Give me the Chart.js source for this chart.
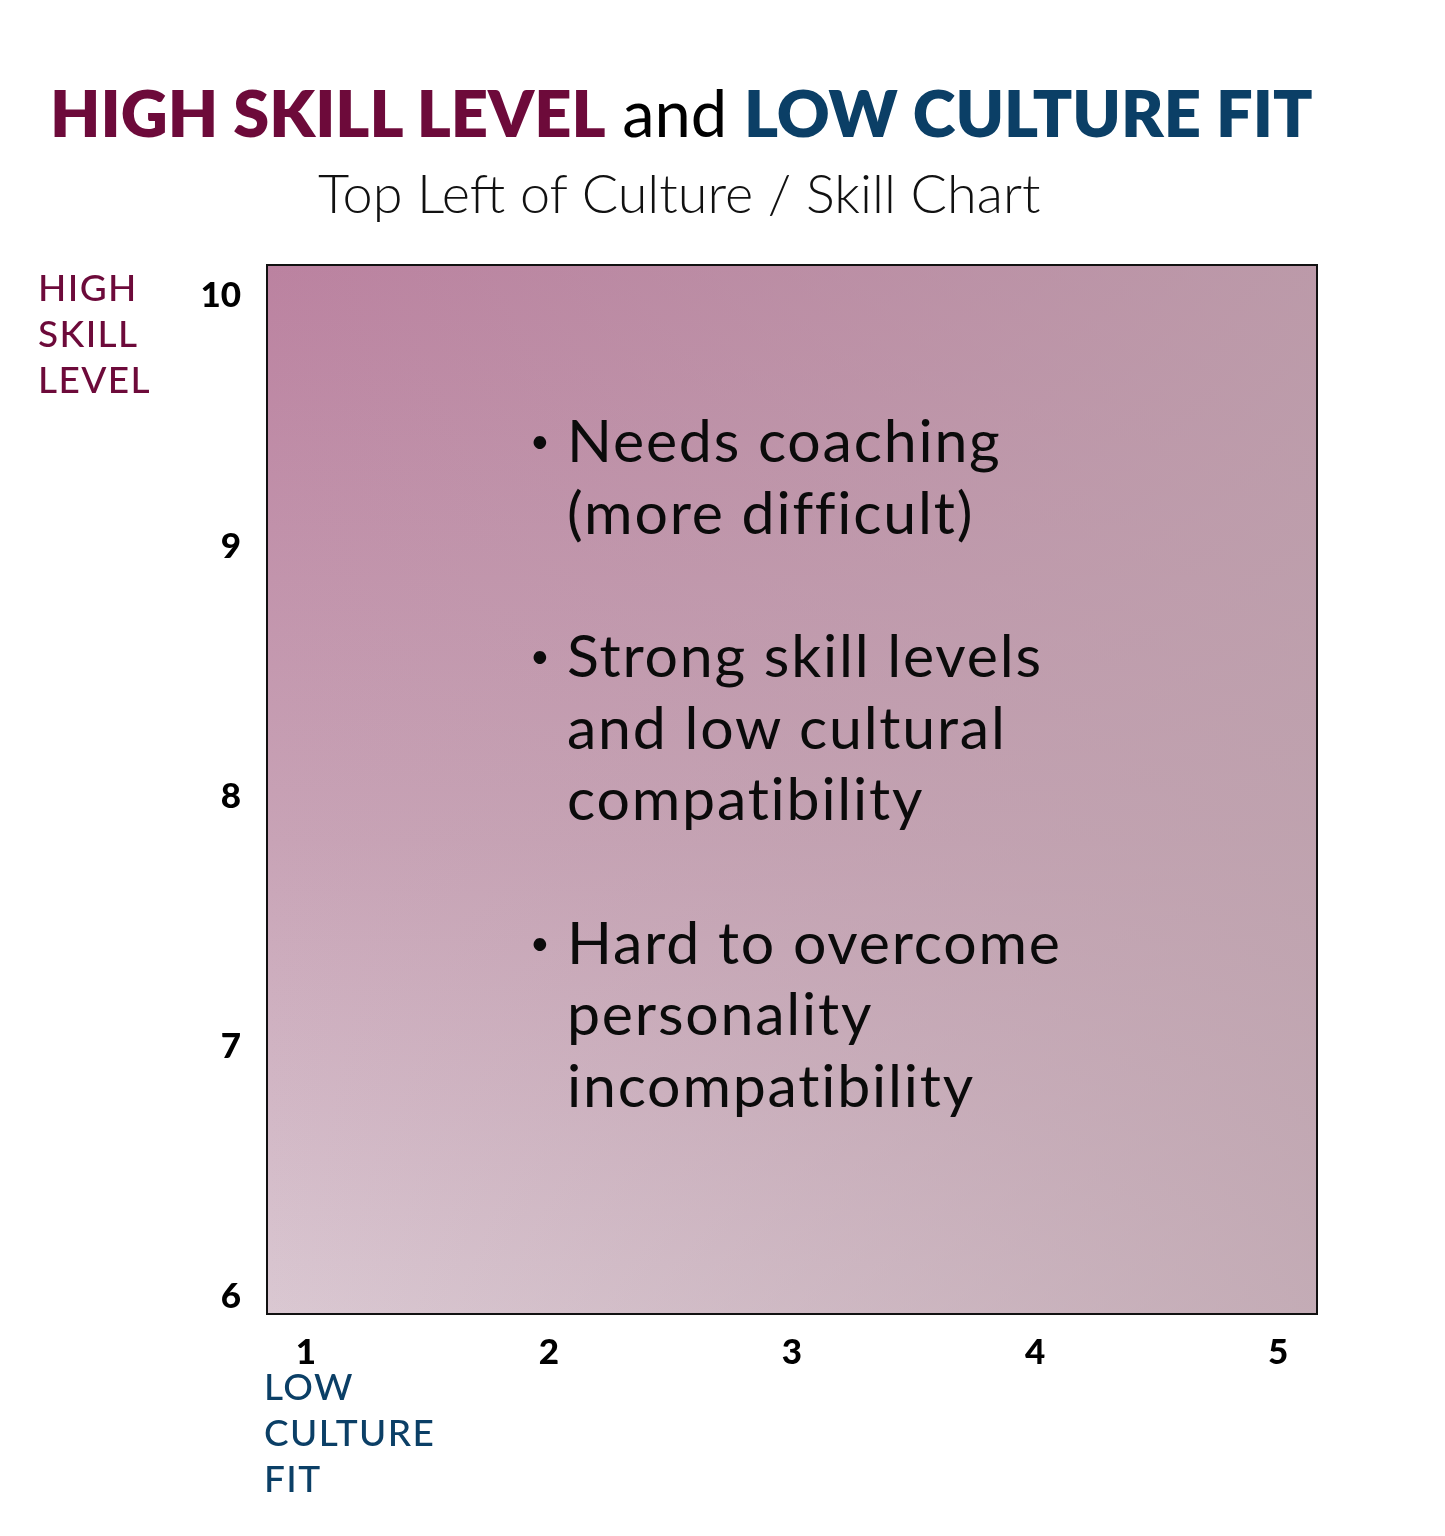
<!DOCTYPE html>
<html>
<head>
<meta charset="utf-8">
<script src="https://cdn.jsdelivr.net/npm/chart.js@4/dist/chart.umd.min.js"></script>
<style>
  body { margin: 0; background: #fff; font-family: Lato, "Open Sans", sans-serif; }
  #wrap { position: relative; width: 1445px; height: 1536px; overflow: hidden; }
  #chart { position: absolute; left: 0; top: 0; }
  .txt { position: absolute; white-space: nowrap; }
  #title { left: 50px; top: 74px; font-size: 65px; line-height: 76px; color: #000; }
  #title b { font-weight: 800; }
  #subtitle { left: 318px; top: 160px; font-size: 54px; line-height: 66px; font-weight: 300; color: #111; }
  .side { font-size: 37px; line-height: 46px; font-weight: 500; letter-spacing: 1.4px; }
  #ylab { left: 38px; top: 264px; color: #6d0a3a; }
  #xlab { left: 264px; top: 1363px; color: #0b3f66; }
  #notes { left: 530px; top: 404px; font-size: 59px; line-height: 71.5px; color: #0b0b0b; letter-spacing: 1.8px; }
  #notes div { position: relative; padding-left: 37px; margin-bottom: 72px; }
  #notes div span.dot { position: absolute; left: 0; top: 0; font-size: 34px; }
</style>
</head>
<body>
<div id="wrap">
  <canvas id="chart" width="1445" height="1536"></canvas>
  <div id="title" class="txt"></div>
  <div id="subtitle" class="txt"></div>
  <div id="ylab" class="txt side"></div>
  <div id="xlab" class="txt side"></div>
  <div id="notes" class="txt"></div>
</div>
<script>
// chart values
const cultureTicks = [1, 2, 3, 4, 5]
const skillTicks = [6, 7, 8, 9, 10]
const cultureRange = [0.84, 5.16]
const skillRange = [5.932, 10.124]
const titleHigh = 'HIGH SKILL LEVEL'
const titleLow = 'LOW CULTURE FIT'
const subtitleText = 'Top Left of Culture / Skill Chart'
const skillLabel = ['HIGH', 'SKILL', 'LEVEL']
const cultureLabel = ['LOW', 'CULTURE', 'FIT']
const notes = [
    ['Needs coaching', '(more difficult)'],
    ['Strong skill levels', 'and low cultural', 'compatibility'],
    ['Hard to overcome', 'personality', 'incompatibility']
]

document.getElementById('title').innerHTML =
    `<b style="color:#6d0a3a">${titleHigh}</b> and <b style="color:#0b3f66">${titleLow}</b>`
document.getElementById('subtitle').textContent = subtitleText
document.getElementById('ylab').innerHTML = skillLabel.join('<br>')
document.getElementById('xlab').innerHTML = cultureLabel.join('<br>')
let notesBox = document.getElementById('notes')
notes.forEach(lines => {
    notesBox.innerHTML += `<div><span class="dot">&#8226;</span>${lines.join('<br>')}</div>`
})

// shaded plot area + frame
const plotBackground = {
    id: 'plotBackground',
    beforeDraw(chart) {
        let {ctx, chartArea: a} = chart
        ctx.save()
        let v = ctx.createLinearGradient(0, a.top, 0, a.bottom)
        v.addColorStop(0, '#bb82a0')
        v.addColorStop(0.55, '#c8a3b6')
        v.addColorStop(1, '#dac8d2')
        ctx.fillStyle = v
        ctx.fillRect(a.left, a.top, a.right - a.left, a.bottom - a.top)
        let h = ctx.createLinearGradient(a.left, 0, a.right, 0)
        h.addColorStop(0, 'rgba(188,160,172,0)')
        h.addColorStop(1, 'rgba(188,162,172,0.75)')
        ctx.fillStyle = h
        ctx.fillRect(a.left, a.top, a.right - a.left, a.bottom - a.top)
        ctx.restore()
    },
    afterDraw(chart) {
        let {ctx, chartArea: a} = chart
        ctx.save()
        ctx.strokeStyle = '#111'
        ctx.lineWidth = 2
        ctx.strokeRect(a.left, a.top, a.right - a.left, a.bottom - a.top)
        ctx.restore()
    }
}

let tickFont = {family: 'Lato, sans-serif', size: 35, weight: 900}

new Chart(document.getElementById('chart'), {
    type: 'scatter',
    data: { datasets: [{ data: [], pointRadius: 0 }] },
    options: {
        responsive: false,
        animation: false,
        layout: { padding: { top: 265, right: 128, left: 0, bottom: 0 } },
        plugins: { legend: { display: false }, tooltip: { enabled: false } },
        scales: {
            x: {
                type: 'linear',
                min: cultureRange[0],
                max: cultureRange[1],
                afterBuildTicks: s => { s.ticks = cultureTicks.map(v => ({value: v})) },
                afterFit: s => { s.height = 222 },
                grid: { display: false },
                border: { display: false },
                ticks: { color: '#000', font: tickFont, padding: 10, maxRotation: 0 }
            },
            y: {
                type: 'linear',
                min: skillRange[0],
                max: skillRange[1],
                afterBuildTicks: s => { s.ticks = skillTicks.map(v => ({value: v})) },
                afterFit: s => { s.width = 267 },
                grid: { display: false },
                border: { display: false },
                ticks: { color: '#000', font: tickFont, padding: 18 }
            }
        }
    },
    plugins: [plotBackground]
})
</script>
</body>
</html>
